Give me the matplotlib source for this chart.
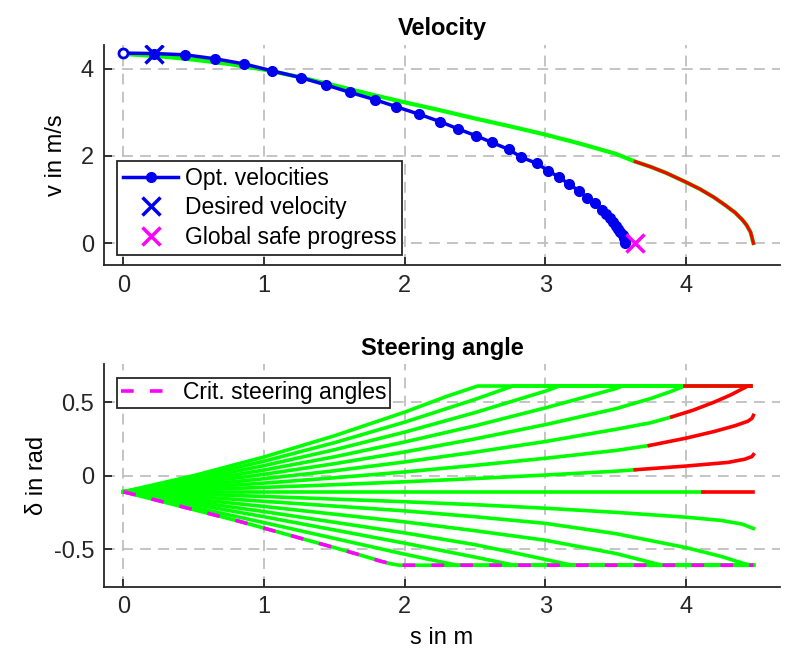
import matplotlib
matplotlib.use('Agg')
import matplotlib.pyplot as plt
import numpy as np

plt.rcParams['font.family'] = ['Liberation Sans', 'DejaVu Sans']
plt.rcParams['axes.unicode_minus'] = False

# ---- velocity data ----
opt_s = [0, 0.22, 0.44, 0.65, 0.86, 1.06, 1.26, 1.44, 1.61, 1.79, 1.94, 2.10, 2.25, 2.38,
         2.51, 2.62, 2.74, 2.83, 2.94, 3.02, 3.10, 3.17, 3.24, 3.30, 3.35, 3.40, 3.43, 3.46,
         3.48, 3.50, 3.52, 3.53, 3.55, 3.56, 3.57, 3.57]
opt_v = [4.36, 4.35, 4.32, 4.23, 4.11, 3.95, 3.80, 3.63, 3.46, 3.29, 3.13, 2.96, 2.79, 2.62,
         2.46, 2.31, 2.15, 1.97, 1.83, 1.66, 1.51, 1.35, 1.20, 1.04, 0.91, 0.77, 0.66, 0.57,
         0.48, 0.40, 0.32, 0.25, 0.18, 0.12, 0.06, 0.0]
desired_s, desired_v = 0.22, 4.35
global_s, global_v = 3.64, 0.0

safe_s = [0, 0.25, 0.5, 0.75, 1.0, 1.25, 1.5, 1.75, 2.0, 2.25, 2.5, 2.75, 3.0, 3.25, 3.5, 3.64]
safe_v = [4.34, 4.29, 4.21, 4.11, 3.98, 3.81, 3.62, 3.42, 3.23, 3.05, 2.86, 2.68, 2.49, 2.28, 2.05, 1.87]
unsafe_s = [3.64, 3.75, 3.86, 4.0, 4.1, 4.2, 4.28, 4.35, 4.40, 4.43, 4.46, 4.48]
unsafe_v = [1.87, 1.75, 1.61, 1.40, 1.24, 1.05, 0.87, 0.70, 0.54, 0.42, 0.25, 0.0]

# ---- steering angle data: (s, delta) green part, then red part ----
steer_green = [
    ([0, 0.5, 1.0, 1.5, 2.0, 2.3, 2.52, 4.46], [-0.11, 0.0, 0.127, 0.271, 0.432, 0.54, 0.61, 0.61]),
    ([0, 0.5, 1, 1.5, 2, 2.5, 2.77, 4.46], [-0.11, -0.013, 0.098, 0.224, 0.364, 0.519, 0.61, 0.61]),
    ([0, 0.5, 1, 1.5, 2, 2.5, 3.0, 3.1, 4.46], [-0.11, -0.027, 0.068, 0.176, 0.296, 0.429, 0.575, 0.61, 0.61]),
    ([0, 0.5, 1, 1.5, 2, 2.5, 3, 3.5, 3.55, 4.46], [-0.11, -0.041, 0.038, 0.128, 0.229, 0.339, 0.461, 0.592, 0.61, 0.61]),
    ([0, 0.5, 1, 1.5, 2, 2.5, 3, 3.5, 3.75, 3.9, 3.99], [-0.11, -0.055, 0.009, 0.081, 0.161, 0.25, 0.347, 0.455, 0.525, 0.575, 0.61]),
    ([0, 0.5, 1, 1.5, 2, 2.5, 3, 3.5, 3.75, 3.9], [-0.11, -0.069, -0.021, 0.033, 0.093, 0.16, 0.232, 0.315, 0.36, 0.40]),
    ([0, 0.5, 1, 1.5, 2, 2.5, 3, 3.5, 3.74], [-0.11, -0.082, -0.051, -0.015, 0.025, 0.07, 0.118, 0.171, 0.205]),
    ([0, 0.5, 1, 1.5, 2, 2.5, 3, 3.5, 3.64], [-0.11, -0.096, -0.08, -0.062, -0.042, -0.02, 0.004, 0.03, 0.04]),
    ([0, 4.12], [-0.11, -0.11]),
    ([0, 1, 2, 2.5, 3, 3.5, 4.0, 4.25, 4.4, 4.48], [-0.11, -0.142, -0.178, -0.198, -0.222, -0.25, -0.283, -0.305, -0.33, -0.36]),
    ([0, 1, 2, 2.5, 3, 3.5, 4.0, 4.25, 4.4, 4.46, 4.48], [-0.11, -0.175, -0.24, -0.28, -0.325, -0.395, -0.49, -0.55, -0.595, -0.61, -0.61]),
    ([0, 1, 2, 2.5, 3, 3.5, 3.83, 4.48], [-0.11, -0.21, -0.315, -0.375, -0.44, -0.53, -0.61, -0.61]),
    ([0, 1, 2, 2.5, 2.9, 3.19, 4.48], [-0.11, -0.245, -0.39, -0.47, -0.55, -0.61, -0.61]),
    ([0, 1, 2, 2.5, 2.78, 4.48], [-0.11, -0.28, -0.46, -0.555, -0.61, -0.61]),
    ([0, 1, 2, 2.37, 4.48], [-0.11, -0.32, -0.535, -0.61, -0.61]),
]
steer_red = [
    ([3.99, 4.46], [0.61, 0.61]),
    ([3.9, 4.05, 4.2, 4.32, 4.40, 4.44, 4.46], [0.40, 0.445, 0.50, 0.55, 0.59, 0.61, 0.61]),
    ([3.74, 4.0, 4.2, 4.35, 4.44, 4.47, 4.48], [0.205, 0.255, 0.30, 0.34, 0.37, 0.39, 0.41]),
    ([3.64, 4.0, 4.3, 4.42, 4.47, 4.48], [0.04, 0.065, 0.09, 0.112, 0.13, 0.143]),
    ([4.12, 4.48], [-0.11, -0.11]),
]
crit_s = [0, 0.82, 1.5, 1.7, 1.82, 1.9, 1.96, 4.48]
crit_d = [-0.11, -0.31, -0.49, -0.545, -0.58, -0.60, -0.61, -0.61]

x_ticks = [0, 1, 2, 3, 4]
v_ticks = [0, 2, 4]
d_ticks = [-0.5, 0, 0.5]
d_ticklabels = ['-0.5', '0', '0.5']

blue = '#0000ee'
green = '#00ff00'
red = '#ff0000'
magenta = '#ff00ff'


def style(ax):
    for side in ['top', 'right']:
        ax.spines[side].set_visible(False)
    for side in ['left', 'bottom']:
        ax.spines[side].set_linewidth(1.3)
        ax.spines[side].set_color('#262626')
    ax.tick_params(direction='in', length=6, width=1.3, labelsize=17, pad=7, colors='#262626')
    ax.grid(True, linestyle=(0, (6, 4)), color='#bfbfbf', linewidth=1.3)
    ax.set_axisbelow(True)


fig = plt.figure(figsize=(7.92, 6.59), dpi=100)

# velocity
ax1 = fig.add_axes([0.131, 0.598, 0.854, 0.334])
style(ax1)
ax1.plot(safe_s + unsafe_s, safe_v + unsafe_v, color=green, lw=3)
ax1.plot(unsafe_s, unsafe_v, color=red, lw=2.3)
ax1.plot(opt_s[1:], opt_v[1:], '-o', color=blue, lw=2.5, ms=7, label='Opt. velocities')
ax1.plot(opt_s[:2], opt_v[:2], '-', color=blue, lw=2.5)
ax1.plot(opt_s[0], opt_v[0], 'o', color=blue, mfc='white', mew=2, ms=6.5)
ax1.plot(desired_s, desired_v, 'x', color=blue, ms=13, mew=2.5, label='Desired velocity')
ax1.plot(global_s, global_v, 'x', color=magenta, ms=13, mew=2.5, label='Global safe progress')
ax1.set_xlim(-0.14, 4.67)
ax1.set_ylim(-0.5, 4.55)
ax1.set_xticks(x_ticks)
ax1.set_yticks(v_ticks)
ax1.set_ylabel('v in m/s', fontsize=17, labelpad=10)
ax1.set_title('Velocity', fontsize=17, fontweight='bold', pad=7)
leg1 = ax1.legend(loc='lower left', bbox_to_anchor=(0.02, 0.045), fontsize=16.5, frameon=True,
                  fancybox=False, edgecolor='#262626', framealpha=1, borderpad=0.25,
                  labelspacing=0.3, handlelength=2.4, handletextpad=0.3, borderaxespad=0)
leg1.get_frame().set_linewidth(1.3)

# steering angle
ax2 = fig.add_axes([0.131, 0.110, 0.854, 0.337])
style(ax2)
for s, d in steer_green:
    ax2.plot(s, d, color=green, lw=2.6)
for s, d in steer_red:
    ax2.plot(s, d, color=red, lw=2.6)
ax2.plot(crit_s, crit_d, color=green, lw=2.6)
ax2.plot(crit_s, crit_d, color=magenta, lw=2.6, linestyle=(0, (3.5, 4.5)), label='Crit. steering angles')
ax2.set_xlim(-0.14, 4.67)
ax2.set_ylim(-0.755, 0.757)
ax2.set_xticks(x_ticks)
ax2.set_yticks(d_ticks)
ax2.set_yticklabels(d_ticklabels)
ax2.set_xlabel('s in m', fontsize=17, labelpad=6)
ax2.set_ylabel('δ in rad', fontsize=17, labelpad=4)
ax2.set_title('Steering angle', fontsize=17, fontweight='bold', pad=7)
leg2 = ax2.legend(loc='upper left', bbox_to_anchor=(0.02, 0.94), fontsize=16.5, frameon=True,
                  fancybox=False, edgecolor='#262626', framealpha=1, borderpad=0.15,
                  handlelength=2.4, handletextpad=0.3, borderaxespad=0)
leg2.get_frame().set_linewidth(1.3)

fig.savefig('out.png', dpi=100)
